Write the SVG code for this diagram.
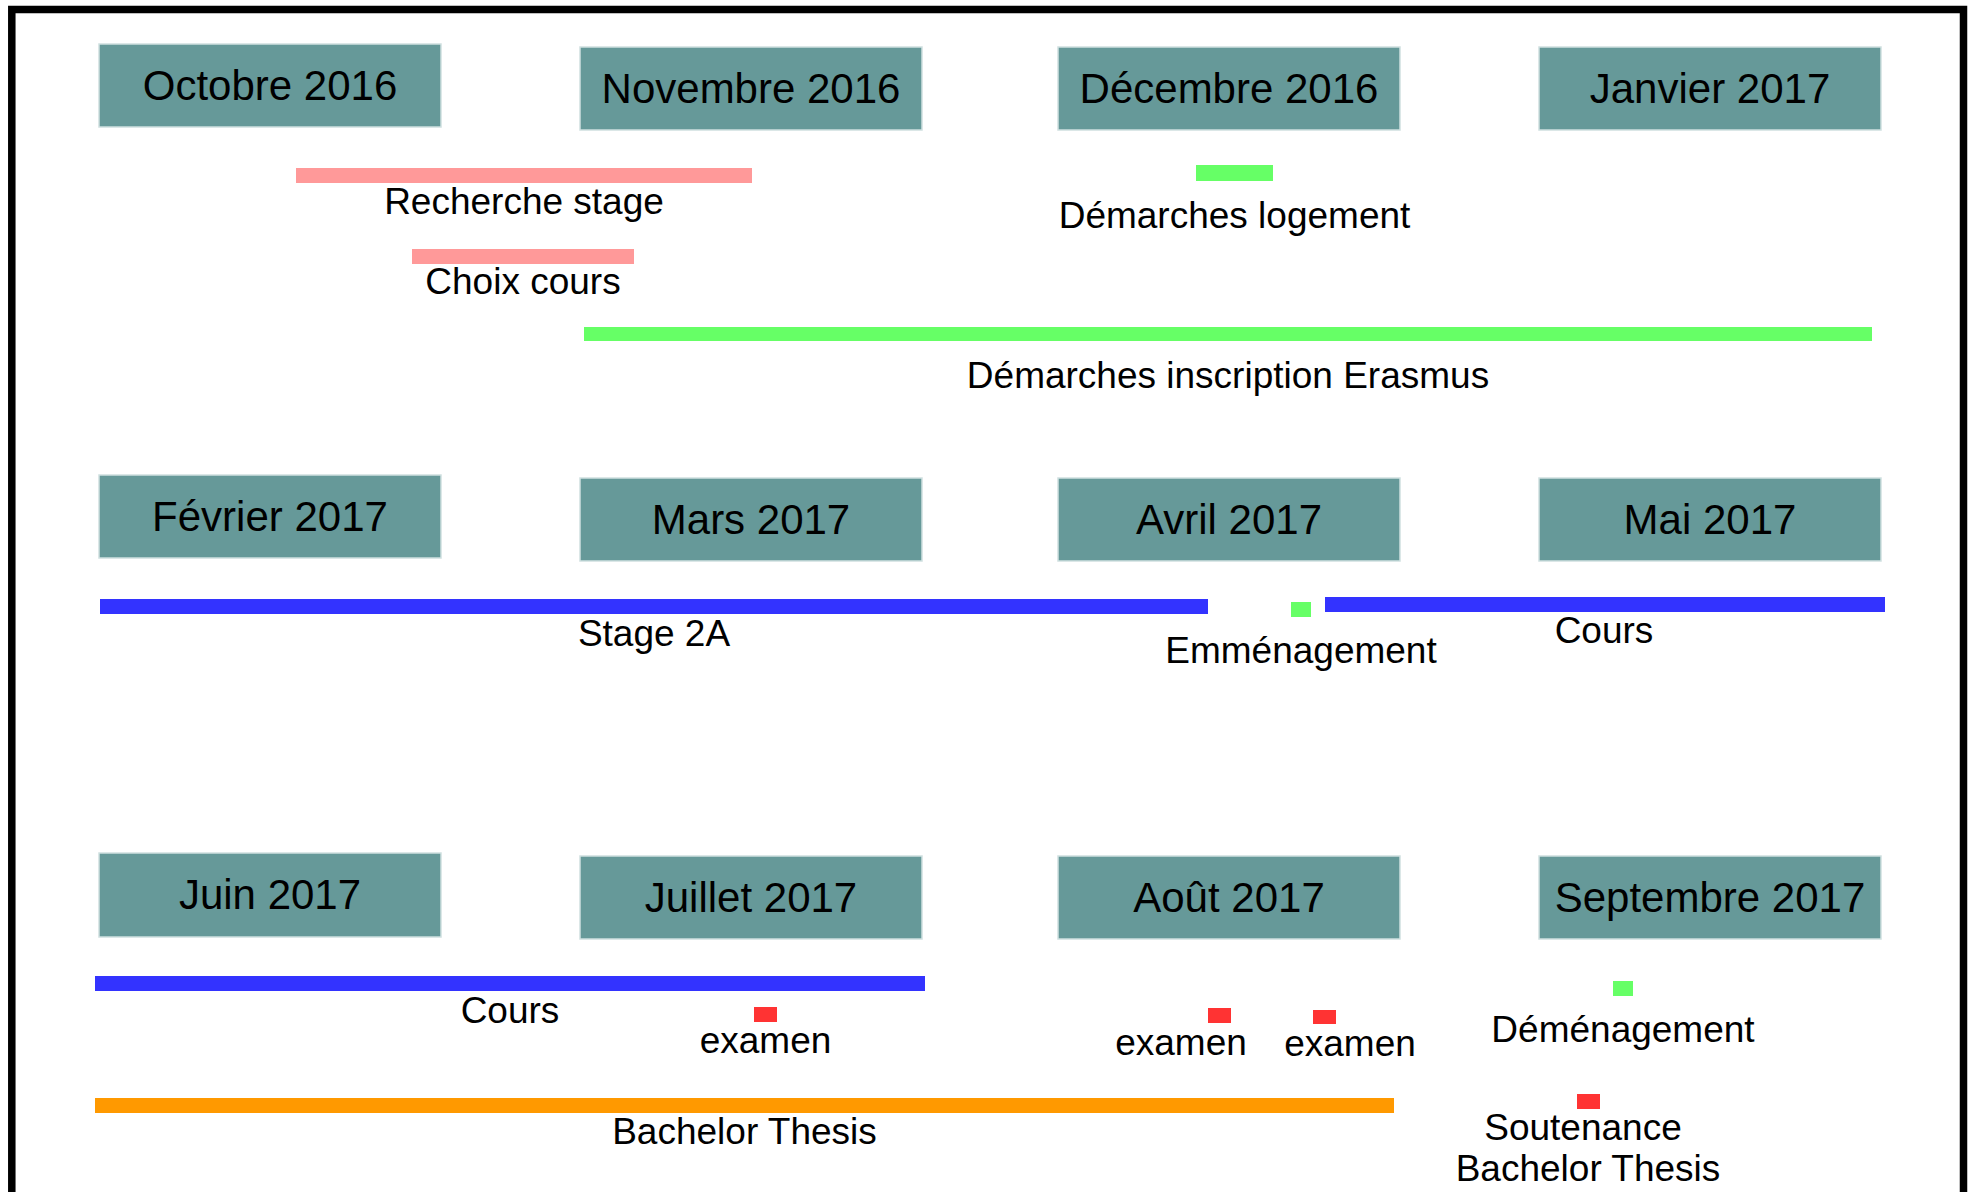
<svg xmlns="http://www.w3.org/2000/svg" width="1973" height="1192" viewBox="0 0 1973 1192">
<style>
.month rect{fill:#669999;stroke:#cfe0e0;stroke-width:1.5}
.month text{font-family:"Liberation Sans",Arial,sans-serif;font-size:42px;fill:#000;text-anchor:middle}
.lbl{font-family:"Liberation Sans",Arial,sans-serif;font-size:37px;fill:#000;text-anchor:middle}
.pink{fill:#ff9999}.green{fill:#66ff66}.blue{fill:#3333ff}.orange{fill:#ff9900}.red{fill:#ff3333}
</style>
<rect x="0" y="0" width="1973" height="1192" fill="#ffffff"/>
<rect id="frame" x="11.8" y="9.5" width="1951.7" height="1260" fill="none" stroke="#000" stroke-width="7.5"/>

<g id="months">
<g id="m-oct" class="month"><rect x="99" y="44" width="342" height="83"/><text x="270" y="100">Octobre 2016</text></g>
<g id="m-nov" class="month"><rect x="580" y="47" width="342" height="83"/><text x="751" y="103">Novembre 2016</text></g>
<g id="m-dec" class="month"><rect x="1058" y="47" width="342" height="83"/><text x="1229" y="103">Décembre 2016</text></g>
<g id="m-jan" class="month"><rect x="1539" y="47" width="342" height="83"/><text x="1710" y="103">Janvier 2017</text></g>

<g id="m-feb" class="month"><rect x="99" y="475" width="342" height="83"/><text x="270" y="531">Février 2017</text></g>
<g id="m-mar" class="month"><rect x="580" y="478" width="342" height="83"/><text x="751" y="534">Mars 2017</text></g>
<g id="m-apr" class="month"><rect x="1058" y="478" width="342" height="83"/><text x="1229" y="534">Avril 2017</text></g>
<g id="m-may" class="month"><rect x="1539" y="478" width="342" height="83"/><text x="1710" y="534">Mai 2017</text></g>

<g id="m-jun" class="month"><rect x="99" y="853" width="342" height="84"/><text x="270" y="909">Juin 2017</text></g>
<g id="m-jul" class="month"><rect x="580" y="856" width="342" height="83"/><text x="751" y="912">Juillet 2017</text></g>
<g id="m-aug" class="month"><rect x="1058" y="856" width="342" height="83"/><text x="1229" y="912">Août 2017</text></g>
<g id="m-sep" class="month"><rect x="1539" y="856" width="342" height="83"/><text x="1710" y="912">Septembre 2017</text></g>
</g>

<g id="activities">
<g id="a-recherche"><rect class="pink" x="296" y="168" width="456" height="15"/><text class="lbl" x="524" y="214">Recherche stage</text></g>
<g id="a-choix"><rect class="pink" x="412" y="249" width="222" height="15"/><text class="lbl" x="523" y="294">Choix cours</text></g>
<g id="a-logement"><rect class="green" x="1196" y="165" width="77" height="16"/><text class="lbl" x="1234.5" y="228">Démarches logement</text></g>
<g id="a-erasmus"><rect class="green" x="584" y="327" width="1288" height="14"/><text class="lbl" x="1228" y="388">Démarches inscription Erasmus</text></g>

<g id="a-stage"><rect class="blue" x="100" y="599" width="1108" height="15"/><text class="lbl" x="654" y="646">Stage 2A</text></g>
<g id="a-emmenagement"><rect class="green" x="1291" y="602" width="20" height="15"/><text class="lbl" x="1301" y="663">Emménagement</text></g>
<g id="a-cours1"><rect class="blue" x="1325" y="597" width="560" height="15"/><text class="lbl" x="1604" y="643">Cours</text></g>

<g id="a-cours2"><rect class="blue" x="95" y="976" width="830" height="15"/><text class="lbl" x="510" y="1023">Cours</text></g>
<g id="a-exam1"><rect class="red" x="754" y="1007" width="23" height="15"/><text class="lbl" x="765.5" y="1053">examen</text></g>
<g id="a-exam2"><rect class="red" x="1208" y="1008" width="23" height="15"/><text class="lbl" x="1181" y="1055">examen</text></g>
<g id="a-exam3"><rect class="red" x="1313" y="1010" width="23" height="14"/><text class="lbl" x="1350" y="1056">examen</text></g>
<g id="a-demenagement"><rect class="green" x="1613" y="981" width="20" height="15"/><text class="lbl" x="1623" y="1042">Déménagement</text></g>
<g id="a-thesis"><rect class="orange" x="95" y="1098" width="1299" height="15"/><text class="lbl" x="744.5" y="1144">Bachelor Thesis</text></g>
<g id="a-soutenance"><rect class="red" x="1577" y="1094" width="23" height="15"/><text class="lbl" x="1583" y="1140">Soutenance</text><text class="lbl" x="1588" y="1181">Bachelor Thesis</text></g>
</g>
</svg>
